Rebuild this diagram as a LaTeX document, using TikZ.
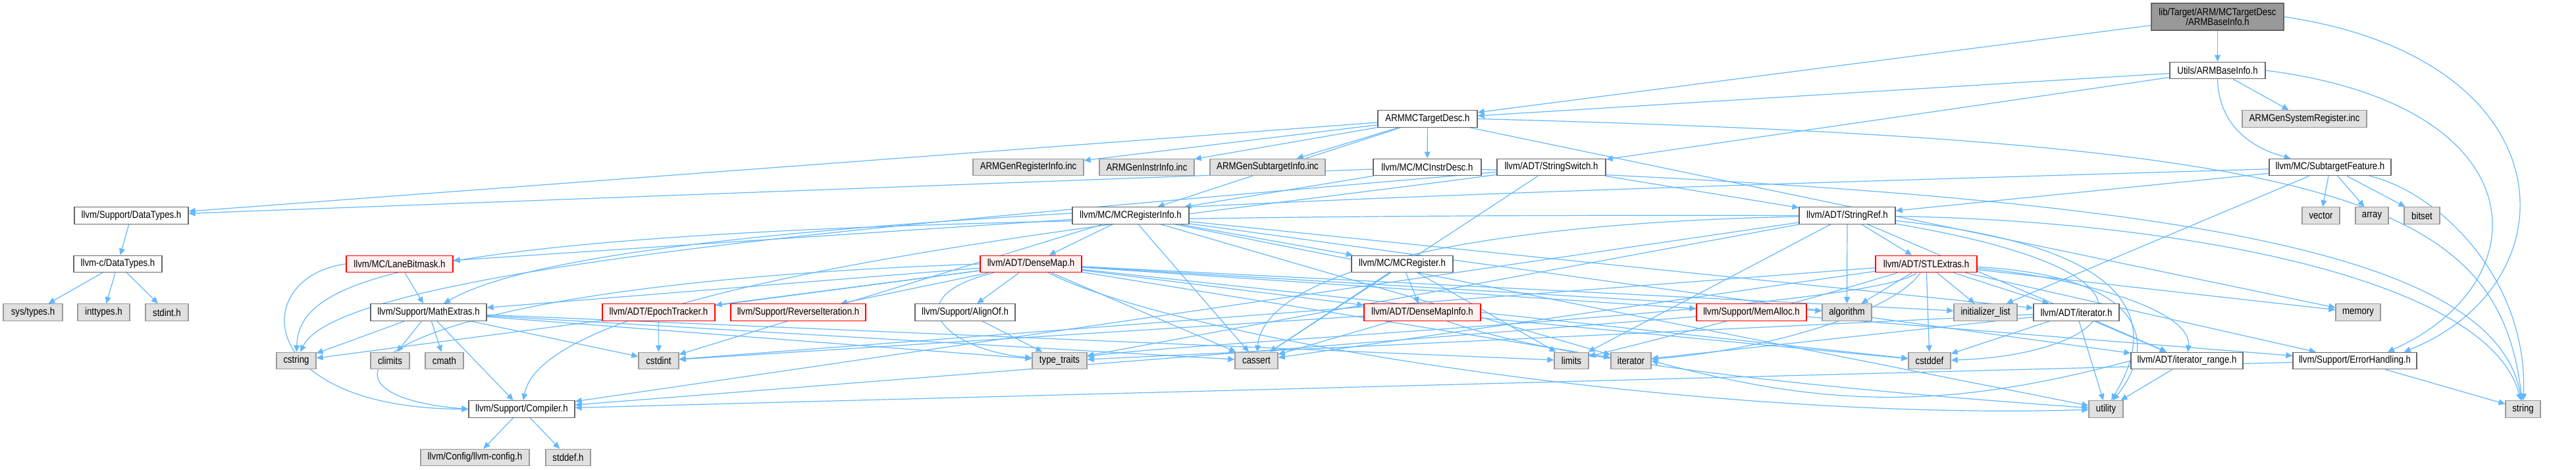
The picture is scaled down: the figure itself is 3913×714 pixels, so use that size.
\documentclass[tikz,border=0pt]{standalone}
\usepackage{fontspec}
\newfontfamily\dfont{Liberation Sans}[FakeStretch=0.86]
\usetikzlibrary{arrows.meta}
\pgfdeclarelayer{bg}
\pgfsetlayers{bg,main}
\definecolor{edgec}{HTML}{63B8FF}
\definecolor{nborder}{HTML}{666666}
\definecolor{sborder}{HTML}{999999}
\definecolor{sfill}{HTML}{E0E0E0}
\definecolor{rfill}{HTML}{FFF0F0}
\definecolor{rootfill}{HTML}{999999}
\begin{document}
\begin{tikzpicture}[x=1pt,y=-1pt,
  nb/.style={draw=nborder, fill=white, line width=1.3pt, minimum height=25.5pt, inner sep=0pt,
    font=\dfont\fontsize{15.4}{14.5}\selectfont, text=black},
  sb/.style={nb, draw=sborder, fill=sfill},
  rb/.style={nb, draw=red, fill=rfill},
  rootb/.style={nb, fill=rootfill, align=center, minimum height=41pt},
  e/.style={draw=edgec, line width=1.2pt, -{Triangle[length=10pt,width=9pt]}}]
\useasboundingbox (0,0) rectangle (3913,714);
% rank 0-2
\node[rootb, minimum width=201] (root) at (3368.5,25.5) {lib/Target/ARM/MCTargetDesc\\/ARMBaseInfo.h};
\node[nb, minimum width=145] (utils) at (3368.5,107) {Utils/ARMBaseInfo.h};
\node[nb, minimum width=151] (armmc) at (2168.5,180.5) {ARMMCTargetDesc.h};
\node[sb, minimum width=189] (sysreg) at (3500.5,180.5) {ARMGenSystemRegister.inc};
% rank 3
\node[sb, minimum width=168] (genreg) at (1562,254) {ARMGenRegisterInfo.inc};
\node[sb, minimum width=144] (geninstr) at (1742,254) {ARMGenInstrInfo.inc};
\node[sb, minimum width=175] (gensub) at (1925.5,254) {ARMGenSubtargetInfo.inc};
\node[nb, minimum width=164] (instrdesc) at (2168,254) {llvm/MC/MCInstrDesc.h};
\node[nb, minimum width=165] (strswitch) at (2356.5,254) {llvm/ADT/StringSwitch.h};
\node[nb, minimum width=185] (subfeat) at (3539.5,254) {llvm/MC/SubtargetFeature.h};
% rank 4
\node[nb, minimum width=173] (dtypes) at (199.5,327.5) {llvm/Support/DataTypes.h};
\node[nb, minimum width=177] (reginfo) at (1717.5,327.5) {llvm/MC/MCRegisterInfo.h};
\node[nb, minimum width=146] (strref) at (2806,327.5) {llvm/ADT/StringRef.h};
\node[sb, minimum width=57] (vector) at (3525.5,327.5) {vector};
\node[sb, minimum width=50] (array) at (3603,327.5) {array};
\node[sb, minimum width=54] (bitset) at (3679,327.5) {bitset};
% rank 5
\node[nb, minimum width=134] (cdtypes) at (179,401) {llvm-c/DataTypes.h};
\node[rb, minimum width=162] (lanebm) at (607,401) {llvm/MC/LaneBitmask.h};
\node[rb, minimum width=154] (densemap) at (1566,401) {llvm/ADT/DenseMap.h};
\node[nb, minimum width=154] (mcreg) at (2130,401) {llvm/MC/MCRegister.h};
\node[rb, minimum width=154] (stlextras) at (2926,401) {llvm/ADT/STLExtras.h};
% rank 6
\node[sb, minimum width=90] (systypes) at (50,474.5) {sys/types.h};
\node[sb, minimum width=79] (inttypes) at (157.5,474.5) {inttypes.h};
\node[sb, minimum width=65] (stdint) at (253.5,474.5) {stdint.h};
\node[nb, minimum width=176] (mathext) at (651,474.5) {llvm/Support/MathExtras.h};
\node[rb, minimum width=171] (epoch) at (1000.5,474.5) {llvm/ADT/EpochTracker.h};
\node[rb, minimum width=205] (reviter) at (1212.5,474.5) {llvm/Support/ReverseIteration.h};
\node[nb, minimum width=152] (alignof) at (1466,474.5) {llvm/Support/AlignOf.h};
\node[rb, minimum width=177] (dmapinfo) at (2160.5,474.5) {llvm/ADT/DenseMapInfo.h};
\node[rb, minimum width=167] (memalloc) at (2660.5,474.5) {llvm/Support/MemAlloc.h};
\node[sb, minimum width=75] (algorithm) at (2805.5,474.5) {algorithm};
\node[sb, minimum width=96] (initlist) at (3016,474.5) {initializer\_list};
\node[nb, minimum width=130] (iterh) at (3154,474.5) {llvm/ADT/iterator.h};
\node[sb, minimum width=68] (memory) at (3582,474.5) {memory};
% rank 7
\node[sb, minimum width=60] (cstring) at (450,548) {cstring};
\node[sb, minimum width=59] (climits) at (592.5,548) {climits};
\node[sb, minimum width=58] (cmath) at (675,548) {cmath};
\node[sb, minimum width=61] (cstdint) at (1000.5,548) {cstdint};
\node[sb, minimum width=83] (typetraits) at (1609.5,548) {type\_traits};
\node[sb, minimum width=65] (cassert) at (1908.5,548) {cassert};
\node[sb, minimum width=52] (limits) at (2387,548) {limits};
\node[sb, minimum width=61] (iterator) at (2477.5,548) {iterator};
\node[sb, minimum width=64] (cstddef) at (2931,548) {cstddef};
\node[nb, minimum width=170] (iterrange) at (3322,548) {llvm/ADT/iterator\_range.h};
\node[nb, minimum width=188] (errh) at (3577,548) {llvm/Support/ErrorHandling.h};
% rank 8-9
\node[nb, minimum width=161] (compiler) at (792.5,621.5) {llvm/Support/Compiler.h};
\node[sb, minimum width=52] (utility) at (3199,621.5) {utility};
\node[sb, minimum width=53] (string) at (3832.5,621.5) {string};
\node[sb, minimum width=165] (llvmconfig) at (721.5,695) {llvm/Config/llvm-config.h};
\node[sb, minimum width=68] (stddef) at (863,695) {stddef.h};

\begin{pgfonlayer}{bg}
\fill[white] (0,0) rectangle (3913,714);
% root
\draw[e] (root) -- (armmc);
\draw[e] (root) -- (utils);
\draw[e] (root.east) .. controls (3905,90) and (3912,430) .. ([xshift=-20pt]errh.north east);
% utils
\draw[e] (utils) -- (armmc);
\draw[e] (utils) -- (strswitch);
\draw[e] (utils.east) .. controls (3860,160) and (3862,430) .. ([xshift=-45pt]errh.north east);
\draw[e] (utils.south) .. controls (3370,190) and (3420,225) .. ([xshift=-60pt]subfeat.north);
\draw[e] (utils) -- (sysreg);
% armmc
\draw[e] (armmc) -- (genreg);
\draw[e] (armmc) -- (geninstr);
\draw[e] (armmc) -- (gensub);
\draw[e] (armmc) -- (instrdesc);
\draw[e] (armmc) -- (reginfo);
\draw[e] (armmc) -- (dtypes);
\draw[e] (armmc) -- (memory);
\draw[e] (armmc.east) .. controls (3550,215) and (3795,300) .. (string);
% instrdesc
\draw[e] (instrdesc) -- (reginfo);
\draw[e] (instrdesc) -- (dtypes);
\draw[e] (instrdesc) .. controls (3300,300) and (3790,380) .. (string);
% strswitch
\draw[e] (strswitch) -- (strref);
\draw[e] (strswitch) .. controls (1800,330) and (830,420) .. (compiler);
\draw[e] (strswitch) -- (cassert);
\draw[e] (strswitch) .. controls (1500,330) and (520,400) .. (cstring);
% subfeat
\draw[e] (subfeat) -- (strref);
\draw[e] (subfeat) .. controls (2000,300) and (900,330) .. (mathext);
\draw[e] (subfeat) -- (vector);
\draw[e] (subfeat) -- (array);
\draw[e] (subfeat) -- (bitset);
\draw[e] (subfeat) -- (initlist);
\draw[e] (subfeat) .. controls (3700,290) and (3840,420) .. (string);
% datatypes
\draw[e] (dtypes) -- (cdtypes);
\draw[e] (cdtypes) -- (systypes);
\draw[e] (cdtypes) -- (inttypes);
\draw[e] (cdtypes) -- (stdint);
% reginfo
\draw[e] (reginfo) -- (densemap);
\draw[e] (reginfo) -- (iterh);
\draw[e] (reginfo) -- (iterrange);
\draw[e] (reginfo) -- (lanebm);
\draw[e] (reginfo) -- (mcreg);
\draw[e] (reginfo) -- (cassert);
\draw[e] (reginfo) -- (cstdint);
\draw[e] (reginfo) -- (iterator);
\draw[e] (reginfo) -- (utility);
% strref
\draw[e] (strref) -- (stlextras);
\draw[e] (strref) -- (iterrange);
\draw[e] (strref) -- (compiler);
\draw[e] (strref) -- (algorithm);
\draw[e] (strref) .. controls (2200,340) and (1920,420) .. (cassert);
\draw[e] (strref) .. controls (3350,420) and (3200,540) .. (cstddef);
\draw[e] (strref.west) .. controls (700,322) and (455,400) .. (cstring);
\draw[e] (strref) -- (limits);
\draw[e] (strref) .. controls (3300,335) and (3780,420) .. (string);
\draw[e] (strref) -- (typetraits);
\draw[e] (strref) .. controls (3300,380) and (3260,520) .. (utility);
% lanebm
\draw[e] (lanebm.west) .. controls (380,420) and (380,620) .. (compiler.west);
\draw[e] (lanebm) -- (mathext);
% densemap
\draw[e] (densemap) -- (dmapinfo);
\draw[e] (densemap) -- (epoch);
\draw[e] (densemap) -- (alignof);
\draw[e] (densemap.west) .. controls (520,435) and (440,600) .. (compiler.west);
\draw[e] (densemap) -- (mathext);
\draw[e] (densemap) -- (memalloc);
\draw[e] (densemap) -- (reviter);
\draw[e] (densemap) -- (algorithm);
\draw[e] (densemap) -- (cassert);
\draw[e] (densemap) -- (cstddef);
\draw[e] (densemap) -- (cstring);
\draw[e] (densemap) -- (initlist);
\draw[e] (densemap) -- (iterator);
\draw[e] (densemap) .. controls (1360,450) and (1430,530) .. (typetraits);
\draw[e] (densemap) .. controls (1800,520) and (2600,640) .. (utility);
% mcreg
\draw[e] (mcreg) -- (dmapinfo);
\draw[e] (mcreg) -- (cassert);
\draw[e] (mcreg) -- (limits);
% stlextras
\draw[e] (stlextras) -- (iterh);
\draw[e] (stlextras) .. controls (3150,420) and (3330,470) .. (iterrange);
\draw[e] (stlextras) -- (errh);
\draw[e] (stlextras) -- (algorithm);
\draw[e] (stlextras) -- (cassert);
\draw[e] (stlextras) -- (cstddef);
\draw[e] (stlextras) -- (cstdint);
\draw[e] (stlextras) -- (initlist);
\draw[e] (stlextras) .. controls (2880,470) and (2700,530) .. (iterator);
\draw[e] (stlextras) .. controls (2700,470) and (2500,520) .. (limits);
\draw[e] (stlextras) -- (memory);
\draw[e] (stlextras) .. controls (2850,470) and (1800,520) .. (typetraits);
\draw[e] (stlextras) .. controls (3260,420) and (3280,520) .. (utility);
% mathext
\draw[e] (mathext) -- (compiler);
\draw[e] (mathext) -- (cassert);
\draw[e] (mathext) -- (climits);
\draw[e] (mathext) -- (cmath);
\draw[e] (mathext) -- (cstdint);
\draw[e] (mathext) -- (cstring);
\draw[e] (mathext) -- (limits);
\draw[e] (mathext) -- (typetraits);
% others
\draw[e] (epoch) -- (cstdint);
\draw[e] (alignof) -- (typetraits);
\draw[e] (dmapinfo) -- (cassert);
\draw[e] (dmapinfo) -- (cstddef);
\draw[e] (dmapinfo) -- (cstdint);
\draw[e] (dmapinfo) .. controls (2400,560) and (2900,600) .. (utility);
\draw[e] (memalloc) -- (compiler);
\draw[e] (memalloc) -- (errh);
\draw[e] (iterh) -- (iterrange);
\draw[e] (iterh) -- (cstddef);
\draw[e] (iterh) -- (iterator);
\draw[e] (iterh) -- (typetraits);
\draw[e] (iterh) -- (utility);
\draw[e] (iterrange.west) to[out=195,in=-15] (iterator.east);
\draw[e] (iterrange) -- (utility);
\draw[e] (errh) -- (compiler);
\draw[e] (errh) -- (string);
\draw[e] (compiler) -- (llvmconfig);
\draw[e] (compiler) -- (stddef);
\end{pgfonlayer}
\end{tikzpicture}
\end{document}
